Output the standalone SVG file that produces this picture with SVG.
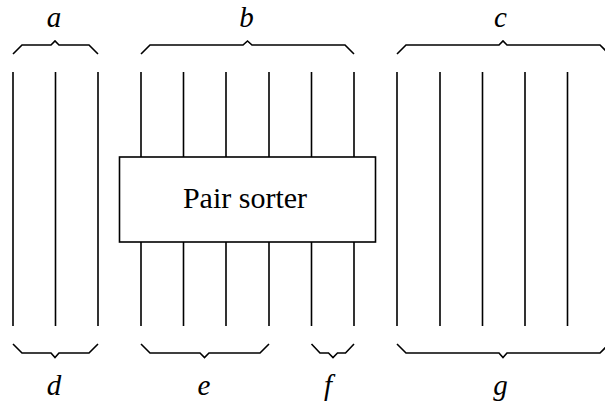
<svg xmlns="http://www.w3.org/2000/svg" width="605" height="407" viewBox="0 0 605 407">
<style>
.w{stroke:#000;stroke-width:1.6;fill:none}
.br{stroke:#000;stroke-width:1.6;fill:none;stroke-linejoin:miter}
.lbl{font-family:'Liberation Serif','Times New Roman',serif;font-style:italic;font-size:29px;text-anchor:middle;fill:#000}
.bx{fill:#fff;stroke:#000;stroke-width:1.6}
.t{font-family:'Liberation Serif','Times New Roman',serif;font-size:30px;text-anchor:middle;fill:#000}
</style>
<g id="connectors">
<path class="w" d="M13,72V326M55.5,72V326M98,72V326M141,72V326M183.5,72V326M226,72V326M269,72V326M311.5,72V326M354,72V326M397,72V326M440,72V326M482.5,72V326M525,72V326M567.5,72V326"/>
</g>
<g id="braces">
<path class="br" d="M13,54L22,45H51L55,41L59,45H89L98,54"/>
<path class="br" d="M141,54L150,45H243L247.5,41L252,45H345L354,54"/>
<path class="br" d="M397,54L406,45H499L503,41L507,45H600L609,54"/>
<path class="br" d="M13,344L22,353H51L55,357.5L59,353H89L98,344"/>
<path class="br" d="M141,344L150,353H200L204.5,357.5L209,353H260L269,344"/>
<path class="br" d="M311.5,344L320,353H328.5L333,357.5L337.5,353H345.5L354,344"/>
<path class="br" d="M397,344L406,353H499L503,357.5L507,353H600L609,344"/>
</g>
<g id="node-pair-sorter">
<rect class="bx" x="119.5" y="157" width="256" height="85"/>
<text class="t" x="245" y="208">Pair sorter</text>
</g>
<g id="labels">
<text class="lbl" x="54" y="26.5">a</text>
<text class="lbl" x="246.5" y="26.5">b</text>
<text class="lbl" x="500.5" y="26.5">c</text>
<text class="lbl" x="54" y="395">d</text>
<text class="lbl" x="204" y="395">e</text>
<text class="lbl" x="328" y="395">f</text>
<text class="lbl" x="500.5" y="395">g</text>
</g>
</svg>
